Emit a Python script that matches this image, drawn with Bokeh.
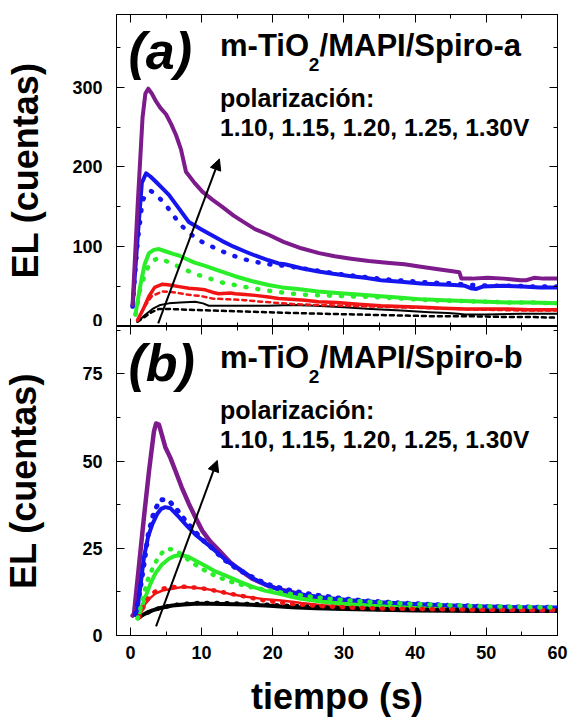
from bokeh.plotting import figure
from bokeh.layouts import column
from bokeh.models import Range1d, LinearAxis, SingleIntervalTicker, Arrow, NormalHead, Label
from bokeh.embed import file_html
from bokeh.resources import INLINE

# ---------------- data: panel (a), m-TiO2/MAPI/Spiro-a ----------------
t_a_purple = [0.3, 1.0, 1.7, 2.1, 2.5, 3.0, 3.6, 4.2, 5.0, 5.7, 6.4, 7.1, 7.8, 9.0, 10.1, 11.5,
              12.9, 14.5, 15.7, 17.5, 19.4, 21.5, 24.0, 26.5, 28.7, 31.0, 33.5, 36.0, 38.5, 40.8,
              43.0, 45.5, 46.2, 46.5, 48.0, 50.2, 52.5, 54.8, 55.6, 56.7, 58.0, 60.0]
el_a_purple = [27, 150, 262, 292, 298, 292, 282, 274, 266, 254, 240, 222, 194, 180, 169, 159,
               150, 139, 132, 122, 115, 106, 98, 92, 88, 85, 82, 80, 78, 75,
               72, 69, 68, 60, 60, 61, 60, 58, 58, 61, 60, 60]

t_a_blue = [0.3, 1.0, 1.6, 2.2, 2.8, 3.5, 4.5, 5.4, 6.8, 8.2, 9.5, 10.1, 11.5, 12.9, 14.5, 16.1,
            17.5, 19.4, 20.8, 21.7, 24.0, 26.4, 28.5, 31.0, 33.0, 35.2, 38.0, 40.8, 43.0, 45.5,
            47.0, 47.8, 48.6, 49.5, 52.4, 55.0, 57.5, 60.0]
el_a_blue = [25, 110, 180, 192, 188, 182, 173, 165, 148, 131, 124, 121, 114, 107, 100, 94,
             89, 83, 79, 78, 73, 69, 66, 63, 61, 58, 56, 54, 53, 52,
             51, 48, 47, 50, 51, 50, 49, 49]

t_a_blue_fit = [0.3, 1.0, 1.7, 2.3, 2.85, 3.5, 4.5, 5.5, 6.8, 8.0, 9.6, 11.0, 12.4, 14.0, 16.1,
                17.5, 19.4, 21.7, 24.0, 27.0, 30.0, 33.0, 36.0, 39.0, 42.0, 45.0, 48.0, 51.0,
                54.0, 57.0, 60.0]
el_a_blue_fit = [25, 105, 158, 167, 170, 166, 157, 146, 130, 119, 108, 102, 96, 90, 84,
                 81, 78, 76, 73, 69, 65, 62, 59, 57, 55, 54, 52, 51,
                 51, 50, 50]

t_a_green = [0.7, 1.4, 2.0, 2.6, 3.3, 4.0, 5.0, 6.0, 6.8, 8.0, 9.0, 10.5, 12.4, 14.7, 17.0,
             19.4, 21.3, 23.5, 26.4, 29.0, 32.0, 35.2, 38.0, 41.0, 44.0, 47.0, 50.0, 53.0,
             56.0, 60.0]
el_a_green = [15, 52, 78, 92, 96, 97, 94, 91, 89, 84, 80, 76, 70, 63, 57,
              52, 49, 47, 44, 42, 40, 38, 36, 34, 33, 32, 31, 30,
              30, 29]

t_a_green_fit = [0.7, 1.4, 2.2, 3.0, 4.0, 5.0, 6.0, 7.3, 8.7, 10.1, 11.5, 13.3, 14.7, 16.5,
                 18.5, 20.0, 22.0, 24.0, 27.0, 30.0, 34.0, 38.0, 42.0, 46.0, 50.0, 54.0,
                 57.0, 60.0]
el_a_green_fit = [15, 48, 70, 82, 86, 82, 78, 73, 67, 63, 59, 54, 52, 49,
                  46, 44, 42, 40, 39, 38, 37, 35, 33, 32, 31, 30,
                  30, 29]

t_a_red = [1.0, 1.8, 2.6, 3.4, 4.5, 5.5, 6.8, 8.2, 9.5, 10.5, 11.5, 12.4, 14.0, 14.7, 16.1,
           17.5, 19.4, 20.8, 22.5, 24.5, 26.4, 29.0, 32.0, 35.2, 38.0, 41.0, 44.0, 47.0,
           50.0, 53.0, 56.0, 60.0]
el_a_red = [8, 22, 38, 49, 53, 52, 50, 48, 47, 46, 43, 41, 42, 41, 40,
            39, 37, 35, 34, 33, 31, 30, 28, 26, 25, 24, 23, 22,
            22, 22, 21, 21]

t_a_red_fit = [1.0, 2.0, 3.0, 4.5, 6.0, 8.0, 10.0, 11.5, 14.0, 16.0, 18.5, 20.0, 23.0, 26.0,
               30.0, 34.0, 38.0, 42.0, 46.0, 50.0, 55.0, 60.0]
el_a_red_fit = [8, 25, 38, 44, 43, 40, 38, 35, 34, 33, 31, 30, 28, 27,
                26, 25, 24, 23, 22, 21, 20, 20]

t_a_black = [1.0, 2.0, 3.1, 4.2, 5.4, 7.0, 9.1, 10.2, 11.0, 12.5, 16.1, 19.4, 22.7, 26.0,
             30.0, 33.8, 38.0, 42.0, 44.6, 46.0, 47.0, 50.0, 55.0, 60.0]
el_a_black = [6, 14, 22, 27, 29, 30, 31, 29, 26, 26, 26, 26, 27, 26,
              24, 22, 20, 18, 17, 16, 15, 15, 16, 16]

t_a_black_fit = [1.0, 2.0, 3.0, 4.0, 5.4, 8.0, 11.5, 15.0, 19.0, 22.6, 27.0, 32.0, 37.0, 42.0,
                 47.0, 52.0, 56.0, 60.0]
el_a_black_fit = [6, 12, 18, 22, 22, 21, 20, 19, 18, 17, 16, 15, 14, 13,
                  13, 12, 12, 11]

# ---------------- data: panel (b), m-TiO2/MAPI/Spiro-b ----------------
t_b_purple = [0.3, 0.5, 1.2, 1.9, 2.6, 3.3, 3.6, 4.0, 4.9, 5.6, 6.3, 7.2, 8.2, 9.1, 10.1, 11.2,
              12.4, 14.0, 15.7, 17.1, 19.4, 21.0, 22.7, 24.0, 26.4, 30.0, 35.7, 40.0, 45.0,
              50.0, 55.0, 60.0]
el_b_purple = [5.7, 6.2, 20, 34, 47, 58.5, 60.8, 60.5, 54, 51, 47.3, 42.5, 37.8, 34, 30, 27,
               24.5, 21, 18.3, 16.3, 14.2, 13.2, 12.4, 11.7, 10.5, 9.6, 8.6, 8.0, 7.7,
               7.5, 7.3, 7.2]

t_b_blue = [0.7, 1.0, 1.9, 2.5, 3.1, 3.8, 4.3, 4.9, 5.6, 6.8, 8.0, 9.1, 10.3, 11.5, 12.6, 13.8,
            15.5, 17.1, 19.0, 20.8, 22.6, 25.0, 28.0, 31.0, 35.0, 40.0, 45.0, 50.0, 55.0, 60.0]
el_b_blue = [6, 7.5, 22.5, 28.5, 32, 35, 36.3, 36.8, 36.5, 34, 31.3, 29, 27, 25, 23, 21,
             18.8, 16.5, 14.6, 13.2, 12.3, 11.5, 10.7, 10.1, 9.5, 9.0, 8.6, 8.3, 8.1, 8.0]

t_b_blue_fit = [0.7, 1.2, 1.8, 2.5, 3.3, 4.2, 5.4, 6.6, 7.5, 8.7, 10.1, 11.5, 13.0, 14.7, 16.3,
                18.0, 19.8, 21.7, 24.0, 26.4, 28.7, 31.0, 33.4, 35.7, 38.0, 40.3, 42.7, 45.0,
                47.4, 49.7, 52.0, 54.5, 57.0, 60.0]
el_b_blue_fit = [6, 11, 19, 29, 35.4, 39, 38.7, 35.9, 33.5, 30.6, 27.5, 25, 22, 19.5, 17.6,
                 15.8, 14.3, 13.3, 12.3, 11.5, 10.9, 10.3, 9.9, 9.6, 9.3, 9.1, 8.9, 8.6,
                 8.5, 8.3, 8.2, 8.2, 8.1, 8.1]

t_b_green = [1.0, 2.1, 2.8, 3.5, 4.4, 5.4, 6.1, 6.8, 7.5, 8.2, 9.3, 10.5, 12.0, 13.8, 15.5,
             17.1, 19.0, 20.8, 22.5, 24.0, 27.0, 30.0, 35.0, 40.0, 45.0, 50.0, 55.0, 60.0]
el_b_green = [4.9, 11, 14.8, 17.8, 20.3, 22, 22.7, 23, 22.9, 22.5, 21.3, 20, 18.3, 16.8, 15.3,
              14.0, 12.8, 12.0, 11.2, 10.5, 9.7, 9.1, 8.5, 8.1, 7.9, 7.7, 7.6, 7.5]

t_b_green_fit = [1.0, 1.5, 1.9, 2.4, 3.1, 3.8, 4.7, 5.4, 6.1, 7.0, 8.2, 9.5, 11.0, 12.5, 14.0,
                 15.5, 17.1, 19.0, 21.0, 23.0, 25.5, 28.0, 31.0, 34.0, 37.0, 40.0, 43.0, 46.0,
                 49.0, 52.0, 55.0, 58.0, 60.0]
el_b_green_fit = [4.9, 8.5, 12, 15.8, 19.2, 22, 24.4, 24.8, 24.6, 23.5, 21.6, 19.8, 18, 16.6,
                  15.5, 14.6, 13.8, 13.1, 12.4, 11.8, 11.1, 10.5, 10.0, 9.6, 9.3, 9.0, 8.8,
                  8.6, 8.4, 8.3, 8.2, 8.1, 8.1]

t_b_red = [1.2, 2.1, 2.8, 3.5, 4.5, 5.9, 7.0, 7.7, 9.0, 10.5, 12.0, 13.8, 16.0, 18.5, 20.8,
           22.7, 24.0, 27.0, 30.0, 35.0, 40.0, 45.0, 50.0, 55.0, 60.0]
el_b_red = [5.2, 9.1, 10.8, 12, 12.9, 13.4, 13.8, 13.9, 13.7, 13.4, 12.8, 12, 11.2, 10.5, 10.1,
            9.7, 9.3, 8.7, 8.3, 7.9, 7.7, 7.6, 7.5, 7.4, 7.4]

t_b_red_fit = [1.2, 1.9, 2.6, 3.4, 4.5, 5.9, 7.3, 8.7, 10.1, 11.5, 13.0, 14.5, 16.0, 17.5,
               19.0, 21.0, 23.0, 25.5, 28.0, 31.0, 34.0, 37.0, 40.0, 44.0, 48.0, 52.0, 56.0, 60.0]
el_b_red_fit = [5.2, 8.5, 11, 12.5, 13.4, 13.9, 14, 13.8, 13.5, 13, 12.4, 11.8, 11.2, 10.6,
                10, 9.4, 9, 8.6, 8.3, 8.0, 7.8, 7.7, 7.6, 7.5, 7.4, 7.4, 7.3, 7.3]

t_b_black = [1.2, 2.0, 3.1, 4.2, 5.9, 7.5, 9.1, 11.0, 13.0, 16.1, 19.0, 22.7, 26.0, 30.0, 35.0,
             40.0, 45.0, 50.0, 55.0, 60.0]
el_b_black = [5.2, 6.2, 7.2, 7.9, 8.6, 8.9, 9.1, 9.1, 9.0, 8.9, 8.6, 8.1, 7.8, 7.6, 7.4,
              7.2, 7.1, 7.0, 7.0, 7.0]

t_b_black_fit = [1.2, 2.3, 3.5, 5.0, 6.5, 8.0, 9.5, 11.0, 12.5, 14.0, 15.5, 17.0, 18.5, 20.0,
                 23.0, 26.0, 30.0, 35.0, 40.0, 45.0, 50.0, 55.0, 60.0]
el_b_black_fit = [5.2, 6.5, 7.5, 8.3, 8.8, 9.1, 9.3, 9.3, 9.3, 9.2, 9.1, 9.0, 8.9, 8.7,
                  8.4, 8.1, 7.8, 7.6, 7.4, 7.3, 7.2, 7.1, 7.1]

# colours for the five bias voltages
PURPLE = "#7d1a8c"
BLUE = "#1515f0"
GREEN = "#2aee2a"
RED = "#f01414"
BLACK = "#000000"

FONT = "Liberation Sans"
X_START, X_END = -1.96, 60.0
FRAME_LEFT, FRAME_RIGHT = 114, 13
FRAME_W = 570 - FRAME_LEFT - FRAME_RIGHT


def inner_axis(ticker):
    """Mirror axis (top / right) that only shows inward ticks."""
    return LinearAxis(ticker=ticker, major_label_text_font_size="0px", major_label_standoff=0,
                      major_tick_in=8, major_tick_out=0, minor_tick_in=4, minor_tick_out=0,
                      axis_line_color="black")


def make_panel(height, y_end, y_step, border_top, border_bottom, ylabel_standoff, bottom_labels):
    p = figure(width=570, height=height, output_backend="svg", toolbar_location=None,
               x_range=Range1d(X_START, X_END), y_range=Range1d(0, y_end),
               min_border_left=FRAME_LEFT, min_border_right=FRAME_RIGHT,
               min_border_top=border_top, min_border_bottom=border_bottom)
    p.grid.visible = False
    p.outline_line_color = "black"
    p.outline_line_width = 1
    p.background_fill_color = "white"
    p.border_fill_color = "white"

    xt = SingleIntervalTicker(interval=10, num_minor_ticks=2)
    yt = SingleIntervalTicker(interval=y_step, num_minor_ticks=2)
    for ax, tk in ((p.xaxis, xt), (p.yaxis, yt)):
        ax.ticker = tk
        ax.major_tick_in = 8
        ax.major_tick_out = 0
        ax.minor_tick_in = 4
        ax.minor_tick_out = 0
        ax.axis_line_color = "black"
        ax.major_label_text_font = FONT
        ax.major_label_text_font_style = "bold"
        ax.major_label_text_font_size = "18px"
        ax.major_label_text_color = "black"
        ax.axis_label_text_font = FONT
        ax.axis_label_text_font_style = "bold"
        ax.axis_label_text_font_size = "36px"
        ax.axis_label_text_color = "black"

    p.yaxis.major_label_standoff = 14
    p.yaxis.axis_label = "EL (cuentas)"
    p.yaxis.axis_label_standoff = ylabel_standoff

    if bottom_labels:
        p.xaxis.major_label_standoff = 10
        p.xaxis.axis_label = "tiempo (s)"
        p.xaxis.axis_label_standoff = 14
    else:
        p.xaxis.major_label_text_font_size = "0px"
        p.xaxis.major_label_standoff = 0

    p.add_layout(inner_axis(SingleIntervalTicker(interval=10, num_minor_ticks=2)), "above")
    p.add_layout(inner_axis(SingleIntervalTicker(interval=y_step, num_minor_ticks=2)), "right")
    return p


def place(y_end, frame_h, dx, dy):
    """Convert an offset in pixels from the frame's top-left corner to data units."""
    x = X_START + dx * (X_END - X_START) / FRAME_W
    y = y_end - dy * y_end / frame_h
    return x, y


def annotate(p, y_end, frame_h, tag, sample, arrow_from, arrow_to):
    # (text, dx, dy of the text's middle, size, style)
    items = [
        (tag, 12, 36, "52px", "bold italic"),
        ("m-TiO", 104, 31, "31px", "bold"),
        ("2", 193, 50, "19px", "bold"),
        ("/MAPI/Spiro-" + sample, 204, 31, "31px", "bold"),
        ("polarización:", 104, 83.5, "25px", "bold"),
        ("1.10, 1.15, 1.20, 1.25, 1.30V", 104, 113, "24.5px", "bold"),
    ]
    for text, dx, dy, size, style in items:
        x, y = place(y_end, frame_h, dx, dy)
        p.add_layout(Label(x=x, y=y, text=text, text_font=FONT, text_font_size=size,
                           text_font_style=style, text_color="black",
                           text_align="left", text_baseline="middle"))
    p.add_layout(Arrow(end=NormalHead(size=11, fill_color="black", line_color="black"),
                       x_start=arrow_from[0], y_start=arrow_from[1],
                       x_end=arrow_to[0], y_end=arrow_to[1],
                       line_color="black", line_width=2))


def solid(p, t, y, color, w):
    p.line(t, y, line_color=color, line_width=w, line_join="round", line_cap="round")


def dotted(p, t, y, color, w, dash):
    p.line(t, y, line_color=color, line_width=w, line_dash=dash, line_cap="round")


# ---------------- panel (a) ----------------
YA = 391.0
FRAME_HA = 312
pa = make_panel(326, YA, 100, 14, 0, 23, False)
solid(pa, t_a_black, el_a_black, BLACK, 2)
dotted(pa, t_a_black_fit, el_a_black_fit, BLACK, 2.5, "4 4")
solid(pa, t_a_red, el_a_red, RED, 3.5)
dotted(pa, t_a_red_fit, el_a_red_fit, RED, 2.5, "4 4")
solid(pa, t_a_green, el_a_green, GREEN, 4)
dotted(pa, t_a_green_fit, el_a_green_fit, GREEN, 4.5, "1 11")
solid(pa, t_a_blue, el_a_blue, BLUE, 4)
dotted(pa, t_a_blue_fit, el_a_blue_fit, BLUE, 4.5, "1 11")
solid(pa, t_a_purple, el_a_purple, PURPLE, 4)
annotate(pa, YA, FRAME_HA, "(a)", "a", (3.9, 4), (12.5, 210))

# ---------------- panel (b) ----------------
YB = 88.6
FRAME_HB = 309
pb = make_panel(394, YB, 25, 0, 85, 35, True)
solid(pb, t_b_black, el_b_black, BLACK, 4)
solid(pb, t_b_red, el_b_red, RED, 2.5)
solid(pb, t_b_purple, el_b_purple, PURPLE, 4.5)
solid(pb, t_b_green, el_b_green, GREEN, 4)
solid(pb, t_b_blue, el_b_blue, BLUE, 4)
dotted(pb, t_b_black_fit, el_b_black_fit, BLACK, 4.5, "1 9")
dotted(pb, t_b_red_fit, el_b_red_fit, RED, 4.5, "1 9")
dotted(pb, t_b_blue_fit, el_b_blue_fit, BLUE, 5, "1 9")
dotted(pb, t_b_green_fit, el_b_green_fit, GREEN, 4.5, "1 9")
annotate(pb, YB, FRAME_HB, "(b)", "b", (3.6, 2.6), (12.2, 50.2))

# the lower half of panel (a)'s "0" tick label falls on panel (b)'s canvas
pb.add_layout(Label(x=X_START, y=YB, x_offset=-14, text="0", text_font=FONT,
                    text_font_size="18px", text_font_style="bold", text_color="black",
                    text_align="right", text_baseline="middle"))

layout = column(pa, pb)
open("out.html", "w").write(file_html(layout, INLINE))
